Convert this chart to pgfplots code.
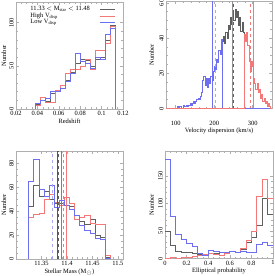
\documentclass[border=0pt]{standalone}
\usepackage{fontspec}
\setmainfont{Liberation Serif}
\usepackage{pgfplots}
\pgfplotsset{compat=1.18}
\definecolor{hr}{RGB}{245,120,120}
\definecolor{lb}{RGB}{110,110,240}
\definecolor{ak}{RGB}{95,95,95}
\definecolor{fr}{RGB}{175,175,175}
\pgfplotsset{
  myax/.style={
    scale only axis, anchor=south west,
    font=\fontsize{6.5}{7}\selectfont,
    /pgf/number format/assume math mode=true,
    /pgf/number format/fixed,
    tick pos=both, tick align=inside,
    major tick length=3bp, minor tick length=1.6bp,
    axis line style={fr, line width=0.9pt},
    every tick/.style={fr, line width=0.5pt},
    yticklabel style={rotate=90, anchor=south, inner sep=2bp},
    xticklabel style={anchor=north, inner sep=2bp},
    ymin=0,
  },
  xlab/.style={xlabel style={at={(rel axis cs:0.5,#1)}, anchor=center, inner sep=0.5pt}},
  ylab/.style={ylabel style={at={(rel axis cs:#1,0.5)}, anchor=center, rotate=0, inner sep=0.5pt}},
  hist/.style={const plot mark left, line width=0.7pt, mark=none},
}
\begin{document}
\begin{tikzpicture}[x=1bp,y=1bp]
\useasboundingbox (0,0) rectangle (275,276);
% ---------- Panel 1: redshift ----------
\begin{axis}[myax, at={(16bp,167bp)}, width=107bp, height=107bp,
  xmin=0.02, xmax=0.12, ymax=124,
  xtick={0.02,0.04,0.06,0.08,0.1,0.12}, minor x tick num=3,
  ytick={0,50,100}, minor y tick num=4,
  xlabel={Redshift}, ylabel={Number}, xlab=-0.112, ylab=-0.112,
  legend plot pos=right,
  legend style={draw=none, fill=none, at={(0.1,0.985)}, anchor=north west,
    font=\fontsize{6.5}{7}\selectfont, row sep=-0.5pt, column sep=9bp,
    nodes={inner sep=0.6pt}},
  legend cell align=left,
  legend image code/.code={\draw[#1, line width=0.7pt] (0bp,0bp) -- (15bp,0bp);},
]
\addplot[hist, ak] coordinates {
(0.02,0) (0.0378,5) (0.0425,10) (0.0472,9) (0.0519,18) (0.0566,22) (0.0613,27)
(0.0660,33) (0.0707,43) (0.0754,53) (0.0801,58) (0.0848,56) (0.0895,49)
(0.0942,58) (0.0989,60) (0.1036,80) (0.1083,97) (0.1130,0) (0.12,0)};
\addlegendentry{11.33 $<$ M\textsubscript{star} $<$ 11.48}
\addplot[hist, hr] coordinates {
(0.02,0) (0.0378,4) (0.0425,14) (0.0472,8) (0.0519,8) (0.0566,22) (0.0613,27)
(0.0660,41) (0.0707,46) (0.0754,46) (0.0801,49) (0.0848,57) (0.0895,46)
(0.0942,68) (0.0989,68) (0.1036,76) (0.1083,96) (0.1130,0) (0.12,0)};
\addlegendentry{High V\textsubscript{disp}}
\addplot[hist, lb] coordinates {
(0.02,0) (0.0378,6) (0.0425,10) (0.0472,12) (0.0519,20) (0.0566,20) (0.0613,24)
(0.0660,32) (0.0707,41) (0.0754,64) (0.0801,55) (0.0848,53) (0.0895,47)
(0.0942,60) (0.0989,57) (0.1036,86) (0.1083,94) (0.1130,0) (0.12,0)};
\addlegendentry{Low V\textsubscript{disp}}
\end{axis}
% ---------- Panel 2: velocity dispersion ----------
\begin{axis}[myax, at={(166bp,167.5bp)}, width=106bp, height=107.5bp,
  xmin=75, xmax=350, ymax=61,
  xtick={100,200,300}, minor x tick num=4,
  ytick={0,20,40,60}, minor y tick num=3,
  xticklabel style={yshift=-10bp},
  xlabel={Velocity dispersion (km/s)}, ylabel={Number}, xlab=-0.208, ylab=-0.135,
]
\addplot[hist, ak] coordinates {
(75,0)
(101,0) (104,1) (107,0) (110,1) (113,1) (116,0) (119,2) (122,1) (125,1) (128,2)
(131,1) (134,2) (137,3) (140,2) (143,3) (146,4) (149,3) (152,4) (155,5) (158,6)
(161,5) (164,7) (167,9) (170,16) (173,18) (176,13) (179,17) (182,12) (185,17) (188,14)
(191,18) (194,16) (197,21) (200,24) (203,22) (206,28) (209,26) (212,33) (215,31) (218,39)
(221,38) (224,41) (227,37) (230,43) (233,40) (236,47) (239,45) (242,52) (245,48) (248,55)
(251,50) (254,56) (257,52) (260,55) (263,47) (266,52) (269,44) (272,49) (275,43)
(278,42) (281,38) (284,43) (287,36) (290,27) (293,21) (296,27) (299,24) (302,17) (305,14)
(308,11) (311,14) (314,9) (317,11) (320,6) (323,8) (326,4) (329,6) (332,3) (335,4)
(338,1) (341,3) (344,1) (347,0) (350,0)};
\addplot[hist, lb] coordinates {
(75,0)
(101,0) (104,1) (107,0) (110,1) (113,1) (116,0) (119,2) (122,1) (125,1) (128,2)
(131,1) (134,2) (137,3) (140,2) (143,3) (146,4) (149,3) (152,4) (155,5) (158,6)
(161,5) (164,7) (167,9) (170,16) (173,18) (176,13) (179,17) (182,12) (185,17) (188,14)
(191,18) (194,16) (197,21) (200,24) (203,22) (206,28) (209,26) (212,33) (215,31) (218,39)
(221,0) (350,0)};
\addplot[hist, hr] coordinates {
(75,0)
(278,42) (281,38) (284,43) (287,36) (290,27) (293,21) (296,27) (299,24) (302,17) (305,14)
(308,11) (311,14) (314,9) (317,11) (320,6) (323,8) (326,4) (329,6) (332,3) (335,4)
(338,1) (341,3) (344,1) (347,0) (350,0)};
\addplot[lb, line width=0.8pt] coordinates {(196,0) (196,61)};
\addplot[lb!60, line width=0.8pt, dashed] coordinates {(203,0) (203,61)};
\addplot[ak!70, line width=0.8pt] coordinates {(247.5,0) (247.5,61)};
\addplot[ak, line width=0.8pt, dashed] coordinates {(249,0) (249,61)};
\addplot[hr, line width=0.8pt, dashed] coordinates {(294,0) (294,61)};
\addplot[hr, line width=0.8pt] coordinates {(303,0) (303,61)};
\end{axis}
% ---------- Panel 3: stellar mass ----------
\begin{axis}[myax, at={(16bp,17bp)}, width=107bp, height=108bp,
  xmin=11.30, xmax=11.51, ymax=90,
  xtick={11.35,11.4,11.45,11.5}, minor x tick num=4,
  /pgf/number format/precision=2,
  ytick={0,20,40,60,80}, minor y tick num=3,
  xlabel={Stellar Mass (M\textsubscript{$\odot$})}, ylabel={Number}, xlab=-0.122, ylab=-0.112,
]
\addplot[hist, ak] coordinates {
(11.30,0) (11.325,44) (11.335,61) (11.345,52) (11.355,56) (11.365,50) (11.375,46)
(11.385,46) (11.395,45) (11.405,44) (11.415,33) (11.425,31) (11.435,29) (11.445,33)
(11.455,20) (11.465,18) (11.475,1.5) (11.485,0) (11.51,0)};
\addplot[hist, hr] coordinates {
(11.30,0) (11.325,35) (11.335,37) (11.345,38) (11.355,50) (11.365,54) (11.375,47)
(11.385,45) (11.395,51) (11.405,46) (11.415,33) (11.425,35) (11.435,36) (11.445,30)
(11.455,29) (11.465,29) (11.475,3.3) (11.485,0) (11.51,0)};
\addplot[hist, lb] coordinates {
(11.30,0) (11.325,65) (11.335,83) (11.345,58) (11.355,52) (11.365,61) (11.375,43)
(11.385,49) (11.395,45) (11.405,41) (11.415,36) (11.425,28) (11.435,24) (11.445,21)
(11.455,17) (11.465,16) (11.475,0.5) (11.485,0) (11.51,0)};
\addplot[lb!60, line width=0.8pt, dashed] coordinates {(11.372,0) (11.372,90)};
\addplot[lb!70!black, line width=0.8pt] coordinates {(11.382,0) (11.382,90)};
\addplot[ak, line width=0.8pt, dashed] coordinates {(11.383,0) (11.383,90)};
\addplot[ak!80, line width=0.8pt] coordinates {(11.3895,0) (11.3895,90)};
\addplot[hr, line width=0.8pt, dashed] coordinates {(11.3935,0) (11.3935,90)};
\addplot[hr, line width=0.8pt] coordinates {(11.398,0) (11.398,90)};
\end{axis}
% ---------- Panel 4: elliptical probability ----------
\begin{axis}[myax, at={(165bp,17.5bp)}, width=108bp, height=107.5bp,
  xmin=0, xmax=1, ymax=195,
  xtick={0,0.2,0.4,0.6,0.8,1}, minor x tick num=3,
  ytick={0,50,100,150}, minor y tick num=4,
  xlabel={Elliptical probability}, ylabel={Number}, xlab=-0.112, ylab=-0.123,
]
\addplot[hist, ak] coordinates {
(0,50) (0.05,24) (0.1,13) (0.15,11) (0.2,11) (0.25,9) (0.3,7) (0.35,6) (0.4,9) (0.45,9)
(0.5,11) (0.55,11) (0.6,13) (0.65,12) (0.7,17) (0.75,29) (0.8,38) (0.85,60) (0.9,109) (0.95,80) (1,80)};
\addplot[hist, hr] coordinates {
(0,1) (0.05,2) (0.1,1) (0.15,2) (0.2,2) (0.25,4) (0.3,6) (0.35,8) (0.4,9) (0.45,8)
(0.5,6) (0.55,9) (0.6,13) (0.65,11) (0.7,18) (0.75,33) (0.8,50) (0.85,112) (0.9,144) (0.95,109) (1,109)};
\addplot[hist, lb] coordinates {
(0,179) (0.05,76) (0.1,44) (0.15,35) (0.2,28) (0.25,22) (0.3,9) (0.35,6) (0.4,15) (0.45,13)
(0.5,11) (0.55,11) (0.6,13) (0.65,11) (0.7,13) (0.75,11) (0.8,12) (0.85,25) (0.9,29) (0.95,23) (1,23)};
\end{axis}
\end{tikzpicture}
\end{document}
